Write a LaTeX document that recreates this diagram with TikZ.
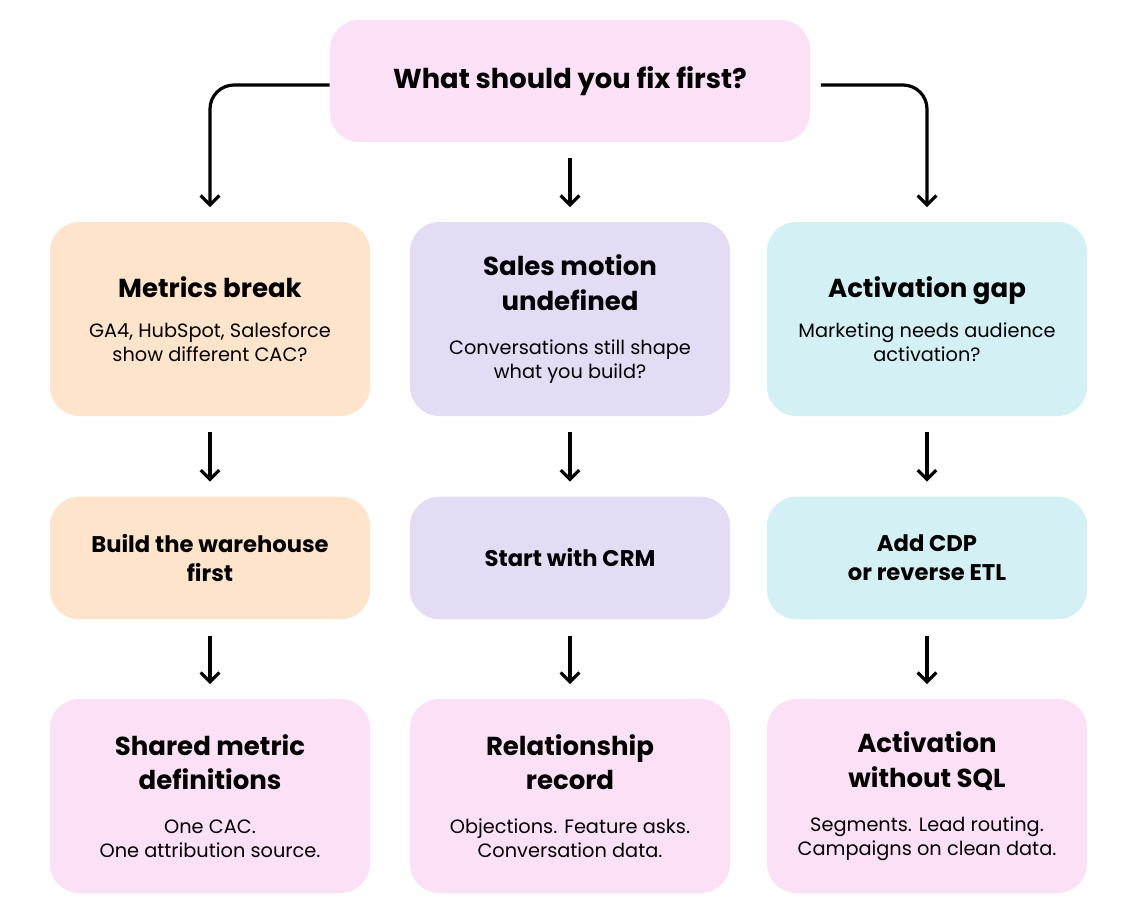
\documentclass[tikz,border=0pt]{standalone}
\usepackage{fontspec}
\setmainfont{Poppins}
\usetikzlibrary{arrows.meta}
\definecolor{pinkbox}{HTML}{FCE0F6}
\definecolor{orangebox}{HTML}{FDE4CA}
\definecolor{purplebox}{HTML}{E4DCF5}
\definecolor{cyanbox}{HTML}{D3F0F5}
\newcommand{\ttl}[1]{{\fontsize{19.5}{26}\selectfont\bfseries #1}}
\newcommand{\sub}[1]{{\fontsize{14.5}{26}\selectfont #1}}
\begin{document}
\begin{tikzpicture}[x=0.75pt, y=-0.75pt,
    box/.style={rounded corners=22pt, minimum width=240pt, align=center, inner sep=0pt},
    tall/.style={box, minimum height=145.5pt, font=\fontsize{14.5}{26}\selectfont},
    short/.style={box, minimum height=92pt, font=\fontsize{17}{22}\selectfont\bfseries},
    arr/.style={-{Straight Barb[length=7pt,width=14pt]}, line width=2.4pt, shorten <=12pt, shorten >=11pt}]
    \useasboundingbox (0,0) rectangle (1140,914);
    % top question
    \node[box, minimum width=360pt, minimum height=91.5pt, fill=pinkbox] (Q) at (570,81) {{\fontsize{20.5}{26}\selectfont\bfseries What should you fix first?}};
    % first row
    \node[tall, fill=orangebox] (M1) at (210,319) {\ttl{Metrics break}\\[4pt]\sub{GA4, HubSpot, Salesforce}\\[-8pt]\sub{show different CAC?}};
    \node[tall, fill=purplebox] (S1) at (570,319) {\ttl{Sales motion}\\\ttl{undefined}\\[7pt]\sub{Conversations still shape}\\[-8pt]\sub{what you build?}};
    \node[tall, fill=cyanbox] (A1) at (927,319) {\ttl{Activation gap}\\[4pt]\sub{Marketing needs audience}\\[-8pt]\sub{activation?}};
    % second row
    \node[short, fill=orangebox] (M2) at (210,558) {Build the warehouse\\first};
    \node[short, fill=purplebox] (S2) at (570,558) {Start with CRM};
    \node[short, fill=cyanbox] (A2) at (927,558) {Add CDP\\or reverse ETL};
    % third row
    \node[tall, fill=pinkbox] (M3) at (210,796) {\ttl{Shared metric}\\\ttl{definitions}\\[7pt]\sub{One CAC.}\\[-8pt]\sub{One attribution source.}};
    \node[tall, fill=pinkbox] (S3) at (570,796) {\ttl{Relationship}\\\ttl{record}\\[7pt]\sub{Objections. Feature asks.}\\[-8pt]\sub{Conversation data.}};
    \node[tall, fill=pinkbox] (A3) at (927,796) {\ttl{Activation}\\\ttl{without SQL}\\[7pt]\sub{Segments. Lead routing.}\\[-8pt]\sub{Campaigns on clean data.}};
    % arrows
    \draw[arr, rounded corners=18pt, shorten <=0pt] ([yshift=-3pt]Q.west) -| (M1.north);
    \draw[arr, rounded corners=18pt, shorten <=8pt] ([yshift=-3pt]Q.east) -| (A1.north);
    \draw[arr] (Q) -- (S1);
    \draw[arr] (M1) -- (M2);
    \draw[arr] (S1) -- (S2);
    \draw[arr] (A1) -- (A2);
    \draw[arr] (M2) -- (M3);
    \draw[arr] (S2) -- (S3);
    \draw[arr] (A2) -- (A3);
\end{tikzpicture}
\end{document}
